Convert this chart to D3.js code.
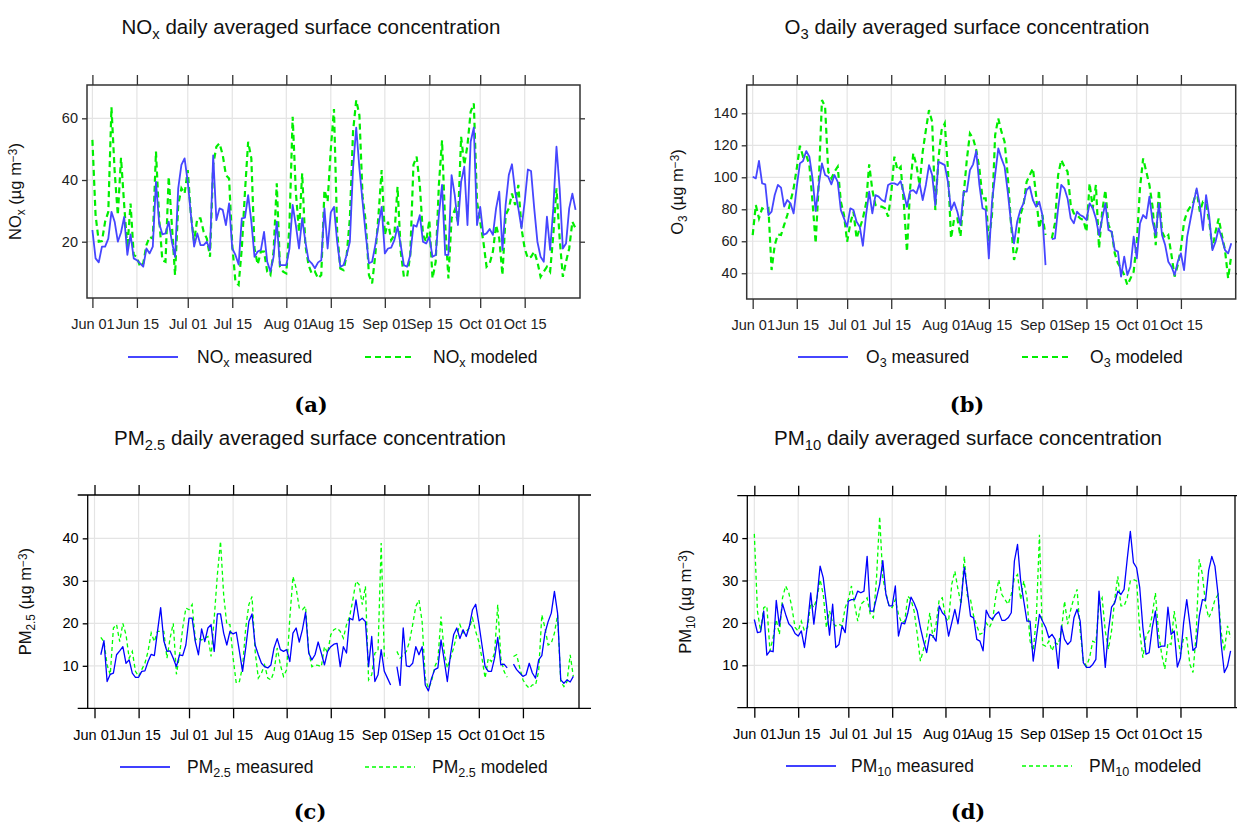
<!DOCTYPE html>
<html><head><meta charset="utf-8">
<script src="https://cdn.jsdelivr.net/npm/d3@7"></script>
<style>body{margin:0;background:#fff} text{font-family:"Liberation Sans",Arial,Helvetica,sans-serif}</style>
</head><body><svg id="chart" width="1237" height="823"></svg>
<script>
// ---------- DATA ----------
const tickLabels = ["Jun 01","Jun 15","Jul 01","Jul 15","Aug 01","Aug 15","Sep 01","Sep 15","Oct 01","Oct 15"];
const noxTicks = [20, 40, 60];
const o3Ticks = [40, 60, 80, 100, 120, 140];
const pmTicks = [10, 20, 30, 40];

const noxMeasured = [23.8,14.6,13.3,18.4,18.4,21,29.7,26.5,20,23,
28,15.7,22.4,14.6,14,13,11.9,17.8,16.2,18.4,
39.4,26,22.4,22.7,26.5,20,15.1,37.3,44.9,47,
39.4,28.6,18.4,22.7,18.9,18.9,20,17.3,48,27,
30.8,30.3,25.4,32.4,17.8,15.7,12.6,27.6,27.8,35.1,
26.5,15.1,16.8,17.3,23.2,13.5,10.3,15.1,26.5,12.4,
12.4,12.4,17.8,31.9,25.4,17.8,27.6,20,14,13,
11.4,13.3,14,30.8,17.8,29.5,31.3,20,11.9,12.4,
15.7,20,43.8,57,43.8,33,22.2,13,13.5,18.9,
25.4,31.3,16.2,17.8,18.1,20.5,24.9,18.9,12.4,11.9,
15.7,25.4,24.9,28.6,20,19.4,21.6,15.1,15.7,28.6,
38.4,15.7,15.7,41.6,35.1,25.4,39.4,44.3,25.4,52.4,
57,25.4,31.3,22.2,22.7,24.1,22.2,30.8,36.2,17.3,
31.9,41.6,45.1,36.2,30.8,24.3,33,43.4,42.9,30.8,
20,15.1,13.5,28.1,17.3,30.8,50.8,37.3,17.8,19.4,
30.8,35.6,30.3];
const noxModeled = [53,28.6,20,20.2,26.5,29.7,63.6,42.7,28.6,47.2,
31.9,17.8,32.4,15.7,15.1,11.9,13,18.9,21.6,21,
49.2,27.6,14,13.5,41.1,25.4,9.2,31.9,37.3,35.6,
43.2,28.6,20,27.6,27.6,23.2,21,15.1,44.9,50.8,
51.9,48.1,41.6,40.5,18.9,7,6,17.8,36.2,52.4,
47,17.8,12.6,16.8,16.8,10.3,9.2,16.8,38.9,11.9,
10.3,9.7,25.4,60.5,36.2,23.2,42.2,18.9,12.4,9.7,
10.3,8.1,9.2,36.7,33,50,63,23.2,11.3,10.8,
15.7,27.6,55.7,65.9,61,34.6,26.5,9.2,6.5,15.7,
28.6,43.2,22.2,26.5,20.5,22.2,37.8,16.8,8.6,8.6,
15.7,44.9,47.6,38.4,22.2,20,27,8.1,13.5,38.4,
52.9,25.4,8.1,27.6,30.3,26.5,54,44.9,51.3,62.1,
64.8,33,26.5,20,11.9,13,16.8,25.4,21,9.2,
28.6,30.8,35.6,31.9,38.4,24.3,17.8,14.6,15.1,16.8,
13.5,8.6,10.3,11.9,10.3,22.2,37.3,21,8.6,13.5,
17.8,26.5,24.3];

const o3Measured = [100.3,99.3,110.2,96.2,95.6,76.4,78.5,88.9,95.2,93.5,
81.6,85.8,83.7,77.4,94.1,108.7,110.2,116.4,112.9,99.3,
78.9,95.2,108.7,101.4,100.3,95.6,101.4,97.2,79.5,74.3,
69.1,80.6,79.5,72.2,69.1,57.2,76.4,91,77.4,88.9,
87.9,85.8,84.7,95.2,96.2,96.2,95.2,97.6,89.9,81.6,
91.4,92,89.9,96.2,85.8,95.2,107.6,101.4,82.6,109.7,
108.7,107.6,97.2,79.5,84.3,78.5,70.2,91,91,104.5,
108.1,116.4,95.2,80.6,79.5,49.3,84.7,101.4,118.1,111.8,
106.6,91,72.2,58.7,72.2,79.5,83.7,92,94.1,85.8,
81.6,84.7,76.4,45.1,null,61.4,61.8,80.6,95.2,93.1,
86.8,74.3,71.2,78.5,76.4,75.4,73.3,83.7,80.6,74.3,
63.9,74.3,83.7,67,66,54.5,53.5,37.9,50.4,38.9,
44.1,62.9,49.3,71.2,76.4,74.3,87.9,72.2,63.9,83.7,
63.9,57.6,47.2,44.1,38.9,47.2,52.4,42,62.9,73.3,
83.7,93.1,82.6,67,88.9,75.4,54.5,59.7,68.1,61.8,
54.5,52.4,58.7];
const o3Modeled = [63.9,82.6,74.3,80.6,79.5,80.6,42,57.6,64.3,63.9,
70.2,76.4,84.7,93.1,105.6,119.7,112.9,113.9,107.6,84.7,
58.7,97.2,148.3,144.1,103.5,99.3,103.5,106.6,84.7,76.4,
59.7,71.2,78.5,61.8,68.1,74.3,83.7,108.1,92,82.6,
81.6,81.6,80.6,75.4,89.9,112.9,104.5,106.6,83.7,53.5,
93.1,115,107.6,95.2,116,129.5,142,134.7,79.5,111.8,
129.5,133.7,105.6,61.8,74.3,74.3,62.9,88.9,110.8,127.4,
124.3,117,105.6,86.8,86.8,59.7,76.4,126.4,136.8,128.5,
122.2,101.4,72.2,48.3,55.6,76.4,82.6,97.2,101.4,105.6,
88.9,68.1,76.4,63.9,null,61.8,71.2,101.4,110.8,106.6,
103.5,82.6,77.4,76.4,74.3,73.3,66,96.2,80.6,95.2,
55.6,78.5,92,70.2,66,52.4,46.2,43,38.9,32.6,
36.8,41,59.7,93.1,111.8,103.5,95.2,81.6,57.6,92,
66,61.8,63.9,51.4,37.9,45.1,55.6,72.2,78.5,81.6,
84.7,92,78.5,84.7,83.7,72.2,55.6,66,74.3,63.9,
54.5,36.8,51.4];

const pm25Measured = [null,null,12.6,15.9,6.3,8,8.3,12.6,13.5,14.5,
10.6,11.4,8.3,7.3,7.3,8.7,8.8,11,12.7,12.4,
18.1,23.7,15.9,13.4,13.5,11.8,9.8,12.6,12.4,14.9,
21.2,21.2,15.7,12.6,18.7,15.7,18.9,19.7,13.4,22.2,
22.2,17.7,14.9,18.1,17.5,17.9,13.4,8.7,14.2,20.4,
22.2,14.9,12.6,10.6,9.8,9.5,10.2,14.2,16.4,13.8,
13.4,13.8,11,17.7,18.9,15.6,18.5,22.6,13,11.4,
12.6,15.6,13,10.2,13.4,14.5,15.1,15.3,9.8,14.5,
13,21.2,20.8,25.5,20.6,21.2,20.4,9.8,16.9,6.3,
7.9,13.8,8.7,7.1,5.5,null,9.8,5.4,18.9,10,
9.8,10.6,14.5,12.6,14.5,5.5,4.1,7.1,9.1,9.5,
16.1,11.4,6.3,12.6,17.3,18.9,16.4,18.5,16.9,19.3,
23.2,24.5,20,14.9,9.8,8.7,8.7,11.8,16.7,10.2,
10.4,9.5,null,10.4,9.1,8.3,7.5,7.9,10.6,8.3,
7.1,11.4,12.4,17.7,20.4,22.4,27.5,22.4,6.7,5.9,
6.7,6.2,7.5];
const pm25Modeled = [null,null,16.7,15.7,10.2,7.9,18.9,19.7,15.7,20,
17.3,11.8,13.4,8.7,7.5,9.1,10.6,13.4,17.7,15.7,
18.1,18.1,18.1,11.8,16.5,20,8,12.6,18.9,23.6,
23.2,24.4,16.1,16.5,16.1,16.5,16.9,12.2,21.2,31.4,
39.3,26.7,19.7,19.7,11.8,5.9,6.3,9.8,18.9,24.4,
26.3,13.4,7.1,8.3,10.2,7.1,6.7,8.7,14.2,10.2,
7.5,9.1,21.2,31,28.3,23.6,23.2,24,13.4,9.8,
10.2,10.1,9.8,14.5,13,17.3,18.5,18.9,18.1,16.5,
19.7,21.6,25.5,29.9,29.1,24.4,28.7,6.7,7.9,13,
13.4,38.9,12.2,11.8,null,null,13.4,11.8,12.6,13.4,
15.7,19.7,24,25.5,20.4,7.1,4.7,6.3,9.8,11.4,
21.6,13.4,9.5,11.8,14.2,17.3,19.7,17.7,18.1,18.9,
21.2,18.1,15.7,11.8,7.1,11.8,11,13,24.4,11.8,
8.7,7.3,null,12.2,12.6,9.5,6.7,5.5,4.7,5.5,
5.5,8.7,22,18.9,14.9,15.3,17.7,22,6.3,5.1,
6.3,12.6,7.5];

const pm10Measured = [20.8,17.7,17.9,22.8,12.4,13.4,13.2,25.3,19.3,24.5,
22,19.8,19,17.5,16.9,18.1,14.2,19.7,27.1,19.7,
25.9,33.4,30.6,24.4,17.1,24.4,14.2,14.9,19.3,17.7,
25.1,25.5,25.5,27.5,27.1,27.5,35.7,22.8,22.8,25.9,
29.1,34.7,26.7,24,24,28.7,16.9,20,19.8,22.4,
26.1,24.7,22.8,18.9,15.7,13,17.3,16.9,15.7,24,
22.4,21.6,16.9,20,23.2,19.8,25.1,33.1,27.5,21.6,
21.2,16.1,15.7,13.4,23,21.4,20.8,22,22.6,20.6,
20.6,21.2,22.4,34.6,38.5,29.9,25.1,20.4,20.4,11,
16.5,22,20.4,18.9,16.5,17.3,16.1,9.3,19.3,16.1,
14.9,15.7,21.2,23.2,20.4,10.6,9.5,9.5,10.2,11.4,
27.5,18.9,9.5,18.1,23.7,24.7,27.5,26.7,27.9,35,
41.6,34.2,33,28.3,18.9,12.6,13,18.9,22.8,14.2,
14.5,14.5,23.7,17.3,18.1,9.6,11.8,20,25.5,19.7,
13.5,14.3,21.6,25.5,25.3,32.4,35.7,33.4,26.7,14.9,
8.3,9.8,13.4];
const pm10Modeled = [41,22.8,18.1,23.6,24,13.4,16.5,20.8,17.3,25.9,
28.7,27.1,23.6,18.9,18.1,20.4,18.1,18.9,24.7,23.6,
25.9,30.2,26.7,18.9,22.8,20,19.3,19.7,19.3,23.6,
25.5,28.7,24.4,20.4,24.4,25.1,25.9,22,21.2,30.6,
45.1,30.6,27.1,24,23.6,25.5,22,20,20.4,26.3,
25.5,22.8,17.3,11,13.8,16.9,22.4,16.5,19.7,25.5,
25.9,21.2,20.4,29.1,32.2,27.9,24.4,35.7,26.3,25.5,
21.6,19.3,17.3,17.7,20,18.9,20.4,25.9,30.2,26.7,
25.5,24.4,26.7,30.6,31.4,25.5,29.9,25.9,15.7,13.4,
21.2,40.8,14.9,14.5,15.7,13.4,15.3,14.9,18.1,25.1,
19.7,23.2,25.9,27.9,18.1,11,9.8,11.8,15.7,15.3,
24.4,25.9,18.1,13.8,18.1,25.5,31,24,24,25.9,
29.9,30.2,29.9,18.1,11.8,16.9,18.1,22,27.1,17.7,
12.6,9.1,15.3,14.9,22.8,17.3,12.6,16.5,16.5,10.2,
8.3,17.3,35,31.4,24.4,21.2,22.8,25.5,26.7,17.7,
13.4,19.3,16.5];

// ---------- LAYOUT ----------
const svg = d3.select("#chart");
const start = new Date(2018, 5, 1);
const DAY = 864e5;
const dates = d3.range(153).map(i => d3.timeDay.offset(start, i));
const parse = d3.timeParse("%b %d %Y");
const tickDates = tickLabels.map(l => parse(l + " 2018"));

function rich(sel, parts, sub) {
  let shift = 0;
  parts.forEach(([t, k]) => {
    const target = k === 1 ? sub : k === 2 ? -sub * 1.1 : 0;
    const ts = sel.append("tspan").text(t).attr("dy", target - shift);
    if (k) ts.attr("font-size", "0.72em");
    shift = target;
  });
}

const panels = [
  { id: "a", meas: noxMeasured, mod: noxModeled, yTicks: noxTicks, yDom: [1.75, 70.8],
    left: 87, right: 580, top: 85, bottom: 298, dLo: -1.7, dHi: 153.4, style: "lattice",
    sp: "NO", spSub: "x", cx: 311, titleY: 34, labelX: 21, legY: 357,
    leg: [128, 197, 365, 433], capY: 412 },
  { id: "b", meas: o3Measured, mod: o3Modeled, yTicks: o3Ticks, yDom: [23.9, 157.7],
    left: 746.7, right: 1235.7, top: 85, bottom: 299, dLo: -1.9, dHi: 153.4, style: "lattice",
    sp: "O", spSub: "3", cx: 967, titleY: 34, labelX: 683, legY: 357,
    leg: [798, 866, 1022, 1090], capY: 412 },
  { id: "c", meas: pm25Measured, mod: pm25Modeled, yTicks: pmTicks, yDom: [0, 50.2],
    left: 87.7, right: 579, top: 495, bottom: 708.3, dLo: -2.16, dHi: 153.8, style: "base",
    sp: "PM", spSub: "2.5", cx: 310, titleY: 445, labelX: 31, legY: 767,
    leg: [120, 187, 365, 432], capY: 819 },
  { id: "d", meas: pm10Measured, mod: pm10Modeled, yTicks: pmTicks, yDom: [0, 50],
    left: 747.3, right: 1235, top: 495.7, bottom: 707.7, dLo: -2.24, dHi: 153.4, style: "base",
    sp: "PM", spSub: "10", cx: 968, titleY: 445, labelX: 691, legY: 766,
    leg: [786, 851, 1022, 1089], capY: 819 }
];

panels.forEach(p => {
  const g = svg.append("g");
  const lattice = p.style === "lattice";
  const x = d3.scaleTime()
    .domain([new Date(start.getTime() + p.dLo * DAY), new Date(start.getTime() + p.dHi * DAY)])
    .range([p.left, p.right]);
  const y = d3.scaleLinear().domain(p.yDom).range([p.bottom, p.top]);

  // grid
  g.append("g").selectAll("line").data(tickDates).join("line")
    .attr("x1", d => x(d)).attr("x2", d => x(d)).attr("y1", p.top).attr("y2", p.bottom)
    .attr("stroke", "#e4e4e4").attr("stroke-width", 1.2);
  g.append("g").selectAll("line").data(p.yTicks).join("line")
    .attr("x1", p.left).attr("x2", p.right).attr("y1", d => y(d)).attr("y2", d => y(d))
    .attr("stroke", "#e4e4e4").attr("stroke-width", 1.2);

  const axCol = lattice ? "#333" : "#000";
  const styleAxis = a => {
    a.select(".domain").remove();
    a.selectAll("line").attr("stroke", axCol).attr("stroke-width", 1.3);
    a.selectAll("text").attr("fill", lattice ? "#222" : "#000")
      .style("font-family", '"Liberation Sans",Arial,sans-serif').attr("font-size", 14.5);
  };
  g.append("g").attr("transform", `translate(0,${p.bottom})`)
    .call(d3.axisBottom(x).tickValues(tickDates).tickFormat((d, i) => tickLabels[i]).tickSize(10).tickPadding(11))
    .call(styleAxis);
  g.append("g").attr("transform", `translate(0,${p.top})`)
    .call(d3.axisTop(x).tickValues(tickDates).tickFormat("").tickSize(10))
    .call(styleAxis);
  g.append("g").attr("transform", `translate(${p.left},0)`)
    .call(d3.axisLeft(y).tickValues(p.yTicks).tickSize(5).tickPadding(4))
    .call(styleAxis);
  if (lattice) {
    g.append("g").attr("transform", `translate(${p.right},0)`)
      .call(d3.axisRight(y).tickValues(p.yTicks).tickFormat("").tickSize(5))
      .call(styleAxis);
  }

  if (lattice) {
    g.append("rect").attr("x", p.left).attr("y", p.top)
      .attr("width", p.right - p.left).attr("height", p.bottom - p.top)
      .attr("fill", "none").attr("stroke", "#333").attr("stroke-width", 1.5);
  } else {
    [[p.left - 10, p.top, p.right + 12, p.top], [p.left - 10, p.bottom, p.right + 12, p.bottom],
     [p.left, p.top, p.left, p.bottom], [p.right, p.top, p.right, p.bottom]].forEach(c => {
      g.append("line").attr("x1", c[0]).attr("y1", c[1]).attr("x2", c[2]).attr("y2", c[3])
        .attr("stroke", "#000").attr("stroke-width", 1.3);
    });
  }

  const line = d3.line().defined(d => d[1] != null).x(d => x(d[0])).y(d => y(d[1]));
  const blue = lattice ? "#4646ff" : "#0000ff";
  const green = lattice ? "#00ee00" : "#00ff00";
  g.append("path").datum(p.mod.map((v, i) => [dates[i], v]))
    .attr("d", line).attr("fill", "none").attr("stroke", green)
    .attr("stroke-width", lattice ? 2.2 : 1.3).attr("stroke-dasharray", lattice ? "6,4" : "4,3");
  g.append("path").datum(p.meas.map((v, i) => [dates[i], v]))
    .attr("d", line).attr("fill", "none").attr("stroke", blue)
    .attr("stroke-width", lattice ? 1.8 : 1.3).attr("stroke-linejoin", "round");

  const t = g.append("text").attr("x", p.cx).attr("y", p.titleY).attr("text-anchor", "middle")
    .attr("font-size", 20.5).attr("fill", "#111");
  rich(t, [[p.sp, 0], [p.spSub, 1], [" daily averaged surface concentration", 0]], 5);

  const yl = g.append("text").attr("transform", `translate(${p.labelX},${(p.top + p.bottom) / 2}) rotate(-90)`)
    .attr("text-anchor", "middle").attr("font-size", 16.5).attr("fill", "#111");
  rich(yl, [[p.sp, 0], [p.spSub, 1], [" (\u00b5g m", 0], ["\u22123", 2], [")", 0]], 4);

  g.append("line").attr("x1", p.leg[0]).attr("x2", p.leg[0] + 50).attr("y1", p.legY).attr("y2", p.legY)
    .attr("stroke", blue).attr("stroke-width", lattice ? 2.2 : 1.4);
  g.append("line").attr("x1", p.leg[2]).attr("x2", p.leg[2] + 50).attr("y1", p.legY).attr("y2", p.legY)
    .attr("stroke", green).attr("stroke-width", lattice ? 2.2 : 1.4).attr("stroke-dasharray", lattice ? "6,4" : "4,3");
  const l1 = g.append("text").attr("x", p.leg[1]).attr("y", p.legY + 6).attr("font-size", 17.5).attr("fill", "#111");
  rich(l1, [[p.sp, 0], [p.spSub, 1], [" measured", 0]], 4);
  const l2 = g.append("text").attr("x", p.leg[3]).attr("y", p.legY + 6).attr("font-size", 17.5).attr("fill", "#111");
  rich(l2, [[p.sp, 0], [p.spSub, 1], [" modeled", 0]], 4);

  g.append("text").attr("x", p.cx).attr("y", p.capY).attr("text-anchor", "middle")
    .attr("font-size", 21).attr("font-weight", "bold")
    .style("font-family", '"DejaVu Serif","Liberation Serif",serif')
    .text(`(${p.id})`);
});
</script></body></html>
